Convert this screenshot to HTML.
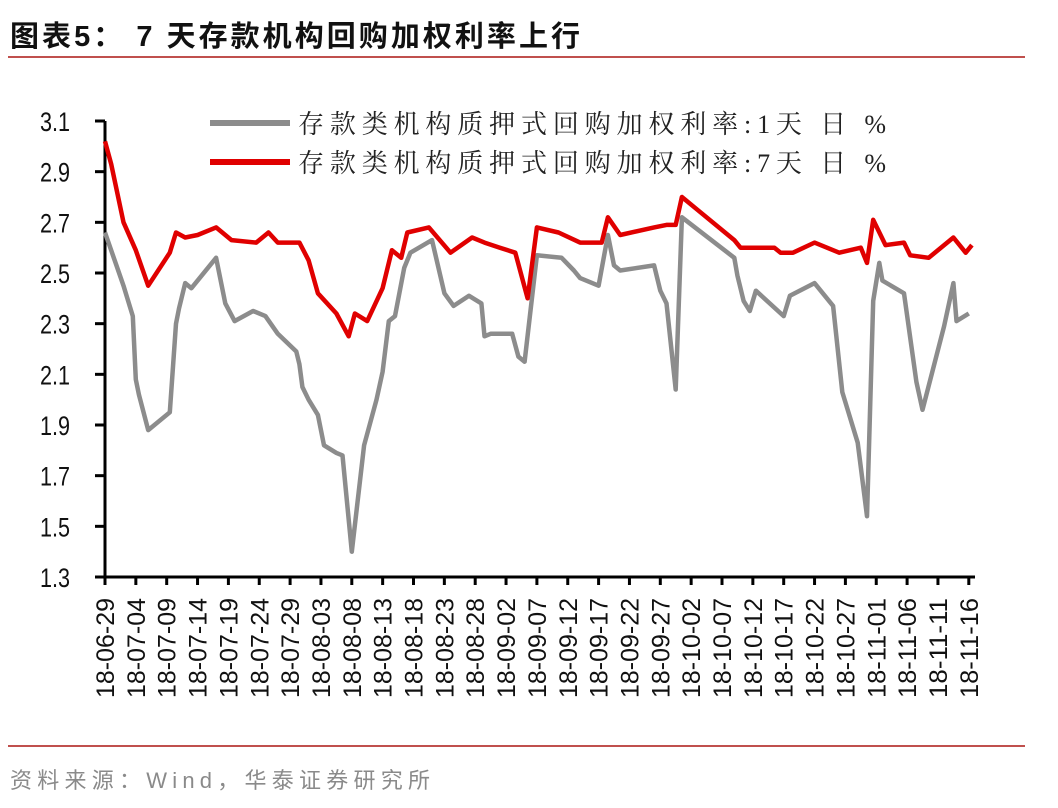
<!DOCTYPE html>
<html><head><meta charset="utf-8"><style>
body{margin:0;background:#fff;width:1058px;height:808px;overflow:hidden;}
svg{display:block}
</style></head><body>
<svg id="chart" width="1058" height="808" xmlns="http://www.w3.org/2000/svg">
<text x="10" y="46" font-family="'Liberation Sans','Noto Sans CJK SC',sans-serif" font-size="29" font-weight="bold" fill="#111" textLength="570" lengthAdjust="spacing">图表5：  7 天存款机构回购加权利率上行</text>
<line x1="8" y1="57" x2="1025" y2="57" stroke="#c0504d" stroke-width="2"/>
<line x1="8" y1="746" x2="1025" y2="746" stroke="#c0504d" stroke-width="2"/>
<text x="10" y="788" font-family="'Liberation Sans','Noto Sans CJK SC',sans-serif" font-size="22" fill="#8a8a8a" textLength="420" lengthAdjust="spacing">资料来源：Wind，华泰证券研究所</text>
<g id="axes"></g>
<g id="series"></g>
<g>
<line x1="210" y1="123" x2="290" y2="123" stroke="#8c8c8c" stroke-width="6"/>
<text x="298" y="133" font-family="'Liberation Serif','Noto Serif CJK SC',serif" font-size="26" fill="#222" textLength="588" lengthAdjust="spacing">存款类机构质押式回购加权利率:1天  日  %</text>
<line x1="210" y1="162" x2="290" y2="162" stroke="#e00000" stroke-width="6"/>
<text x="298" y="172" font-family="'Liberation Serif','Noto Serif CJK SC',serif" font-size="26" fill="#222" textLength="588" lengthAdjust="spacing">存款类机构质押式回购加权利率:7天  日  %</text>
</g>
</svg>
<script>
const yTicks=[1.3,1.5,1.7,1.9,2.1,2.3,2.5,2.7,2.9,3.1];
const yTickLabels=["1.3","1.5","1.7","1.9","2.1","2.3","2.5","2.7","2.9","3.1"];
const xTickDays=[0,5,10,15,20,25,30,35,40,45,50,55,60,65,70,75,80,85,90,95,100,105,110,115,120,125,130,135,140];
const xTickLabels=["18-06-29","18-07-04","18-07-09","18-07-14","18-07-19","18-07-24","18-07-29","18-08-03","18-08-08","18-08-13","18-08-18","18-08-23","18-08-28","18-09-02","18-09-07","18-09-12","18-09-17","18-09-22","18-09-27","18-10-02","18-10-07","18-10-12","18-10-17","18-10-22","18-10-27","18-11-01","18-11-06","18-11-11","18-11-16"];
const day1Days=[0,2,3,4.5,5,5.5,7,10.5,11.5,12,13,14,18,19.5,21,24,26,28,31,31.5,32,33,34.5,35.5,37.5,38.5,40,42,44,45,46,47,48.5,49.5,53,55,56.5,59,61,61.5,62.5,66,67,68,70,74,76,77,80,81.5,82.5,83.5,89,90,91,92.5,93.5,102,102.5,103.5,104.5,105.5,110,111,115,117,118,119.5,122,123.5,124.5,125.5,126,129.5,131.5,132.5,136,137.5,138,140];
const day1Values=[2.66,2.52,2.45,2.33,2.08,2.02,1.88,1.95,2.30,2.36,2.46,2.44,2.56,2.38,2.31,2.35,2.33,2.26,2.19,2.14,2.05,2.00,1.94,1.82,1.79,1.78,1.40,1.82,2.00,2.11,2.31,2.33,2.52,2.58,2.63,2.42,2.37,2.41,2.38,2.25,2.26,2.26,2.17,2.15,2.57,2.56,2.51,2.48,2.45,2.65,2.53,2.51,2.53,2.43,2.38,2.04,2.72,2.56,2.49,2.39,2.35,2.43,2.33,2.41,2.46,2.40,2.37,2.03,1.83,1.54,2.39,2.54,2.47,2.42,2.07,1.96,2.29,2.46,2.31,2.34];
const day7Days=[0,1,3,5,7,10.5,11.5,13,15,18,20.5,24.5,26.5,28,31.5,33,34.5,37.5,39.5,40.5,42.5,45,46.5,48,49,52.5,56,59.5,61.5,64,66.5,68.5,70,73.5,77,80.5,81.5,83.5,89,91,92.5,93.5,96,102,103,108.5,109.5,111.5,115,119,122.5,123.5,124.5,126.5,129.5,130.5,133.5,137.5,139.5,140.5];
const day7Values=[3.02,2.93,2.70,2.59,2.45,2.58,2.66,2.64,2.65,2.68,2.63,2.62,2.66,2.62,2.62,2.55,2.42,2.34,2.25,2.34,2.31,2.44,2.59,2.56,2.66,2.68,2.58,2.64,2.62,2.60,2.58,2.40,2.68,2.66,2.62,2.62,2.72,2.65,2.68,2.69,2.69,2.80,2.75,2.63,2.60,2.60,2.58,2.58,2.62,2.58,2.60,2.54,2.71,2.61,2.62,2.57,2.56,2.64,2.58,2.61];

const NS="http://www.w3.org/2000/svg";
const X0=105,PX_PER_DAY=6.17,Y0=577,Y1=121,VMIN=1.3,VMAX=3.1;
function xs(d){return X0+d*PX_PER_DAY;}
function ys(v){return Y0-(v-VMIN)/(VMAX-VMIN)*(Y0-Y1);}
function mk(tag,attrs){const e=document.createElementNS(NS,tag);for(const k in attrs)e.setAttribute(k,attrs[k]);return e;}
const axes=document.getElementById('axes');
const yAxis=mk('line',{x1:X0,y1:Y1,x2:X0,y2:Y0+1,stroke:'#000','stroke-width':3});


axes.appendChild(yAxis);
const xAxis=mk('line',{x1:95,y1:Y0,x2:975,y2:Y0,stroke:'#000','stroke-width':3});


axes.appendChild(xAxis);
yTicks.forEach((v,i)=>{
  const t=mk('line',{x1:95,y1:ys(v),x2:X0,y2:ys(v),stroke:'#000','stroke-width':3});
  
  
  axes.appendChild(t);
  const lb=mk('text',{x:70,y:ys(v)+10,'text-anchor':'end','font-family':"'Liberation Sans',sans-serif",'font-size':27,fill:'#111',transform:`translate(70,0) scale(0.8,1) translate(-70,0)`});
  lb.textContent=yTickLabels[i];
  
  
  axes.appendChild(lb);
});
xTickDays.forEach((d,i)=>{
  const x=xs(d);
  const t=mk('line',{x1:x,y1:Y0,x2:x,y2:Y0+8,stroke:'#000','stroke-width':3});
  
  
  axes.appendChild(t);
  const lb=mk('text',{x:0,y:0,'text-anchor':'end','font-family':"'Liberation Sans',sans-serif",'font-size':25,fill:'#111',textLength:100,lengthAdjust:'spacingAndGlyphs',transform:`translate(${x+9},598) rotate(-90)`});
  lb.textContent=xTickLabels[i];
  
  
  axes.appendChild(lb);
});
const series=document.getElementById('series');
function pts(days,vals){return days.map((d,i)=>xs(d).toFixed(1)+','+ys(vals[i]).toFixed(1)).join(' ');}
const l1=mk('polyline',{points:pts(day1Days,day1Values),fill:'none',stroke:'#8c8c8c','stroke-width':4.5,'stroke-linejoin':'round'});


series.appendChild(l1);
const l7=mk('polyline',{points:pts(day7Days,day7Values),fill:'none',stroke:'#e00000','stroke-width':4.5,'stroke-linejoin':'round'});


series.appendChild(l7);
</script>
</body></html>
